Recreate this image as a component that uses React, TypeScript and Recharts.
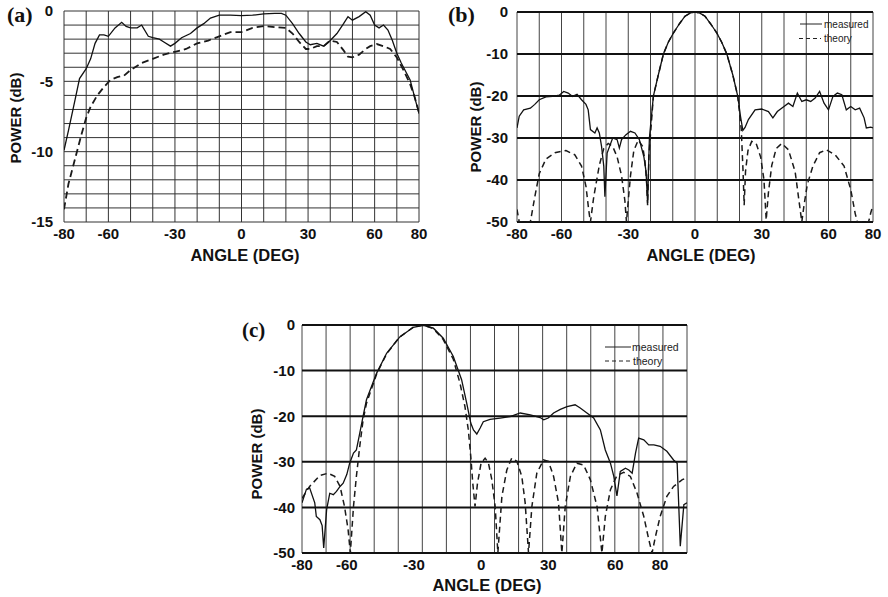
import React from 'react';
import { LineChart, Line, XAxis, YAxis, CartesianGrid } from 'recharts';

type Pt = [number, number];
const SANS = '"Liberation Sans", Arial, Helvetica, sans-serif';
const SERIF = '"Liberation Serif", "Times New Roman", serif';

// ---------- Panel (a) ----------
const aMeasured: Pt[] = [
  [-80, -9.9], [-78, -8.5], [-75, -6.3], [-73, -4.8], [-70, -4.1], [-68, -3.4], [-66, -2.3], [-64, -1.7],
  [-62, -1.7], [-60, -1.8], [-57, -1.2], [-54, -0.8], [-52, -1.1], [-50, -1.2], [-47, -1.2], [-45, -1.0],
  [-42, -1.8], [-40, -1.9], [-37, -2.0], [-35, -2.2], [-32, -2.5], [-30, -2.3], [-27, -1.9], [-23, -1.6],
  [-20, -1.2], [-17, -0.9], [-14, -0.5], [-12, -0.4], [-10, -0.3], [-5, -0.3], [0, -0.33], [5, -0.3],
  [10, -0.2], [15, -0.17], [18, -0.17], [20, -0.3], [23, -0.9], [26, -1.6], [29, -2.2], [31, -2.4],
  [34, -2.3], [37, -2.5], [40, -2.1], [43, -1.6], [46, -0.9], [48, -0.4], [50, -0.65], [53, -0.4],
  [56, -0.05], [58, -0.3], [60, -1.0], [62, -1.2], [64, -1.0], [66, -1.35], [68, -2.1], [70, -3.0],
  [72, -3.7], [74, -4.3], [76, -4.9], [78, -6.1], [80, -7.3],
];
const aTheory: Pt[] = [
  [-80, -14.1], [-78, -12.3], [-76, -11.1], [-74, -9.9], [-72, -8.7], [-70, -7.6], [-68, -6.8], [-65, -6.0],
  [-62, -5.4], [-59, -4.9], [-56, -4.7], [-53, -4.6], [-50, -4.2], [-45, -3.7], [-40, -3.4], [-35, -3.1],
  [-30, -2.9], [-25, -2.7], [-20, -2.3], [-15, -2.1], [-10, -1.8], [-5, -1.5], [0, -1.5], [5, -1.2],
  [10, -1.07], [15, -1.15], [20, -1.2], [23, -1.6], [26, -2.2], [29, -2.7], [31, -2.7], [34, -2.5],
  [37, -2.5], [40, -2.1], [43, -2.2], [46, -2.8], [48, -3.25], [50, -3.3], [53, -3.1], [56, -2.7],
  [58, -2.5], [61, -2.35], [64, -2.5], [67, -2.7], [70, -3.3], [73, -4.2], [76, -5.2], [78, -6.1], [80, -7.2],
];
const aXTicks = [-80, -60, -30, 0, 30, 60, 80];
const aYTicks = [0, -5, -10, -15];
const aGridX = [-80, -70, -60, -50, -40, -30, -20, -10, 0, 10, 20, 30, 40, 50, 60, 70, 80];
const aGridY = [0, -1, -2, -3, -4, -5, -6, -7, -8, -9, -10, -11, -12, -13, -14, -15];

// ---------- Panel (b) ----------
const bMeasured: Pt[] = [
  [-80, -27.6], [-79, -24.8], [-77, -23.3], [-74, -22.9], [-72, -22], [-70, -20.9], [-67, -20.2], [-64, -20.1],
  [-61, -19.8], [-59, -18.9], [-57, -19.3], [-55, -20.1], [-53, -19.6], [-51, -20.9], [-49, -22], [-48, -23.3],
  [-47, -28], [-45, -28.8], [-44, -27.6], [-43, -28.8], [-42, -32], [-41, -36.7], [-40.5, -44], [-39.5, -33.6],
  [-37, -30], [-35, -30.4], [-34, -32.4], [-33, -30.4], [-31, -29.2], [-29, -28.4], [-27, -28.8], [-25, -30.4],
  [-23, -34.4], [-22, -38], [-21.3, -45.5], [-20.5, -30], [-18.7, -20], [-16.5, -15], [-14.2, -10], [-12, -7.2],
  [-9.7, -5], [-7, -2.8], [-4.5, -1], [-2, -0.2], [0, 0], [2, -0.2], [4.5, -1], [7, -2.8], [9.8, -5],
  [12, -7.2], [14.3, -10], [17, -15], [19.2, -20], [20.5, -25], [21.5, -28.2], [22.5, -27.5], [24, -25.6],
  [27, -23.3], [30, -23.1], [33, -23.7], [35, -25.2], [37, -23.7], [40, -22.5], [42, -21.7], [44, -22.5],
  [46, -19.3], [48, -21.3], [50, -20.9], [52, -21.3], [54, -20.5], [56, -18.9], [58, -21.7], [60, -23.3],
  [62, -20.1], [64, -19.3], [66, -19.7], [68, -23.3], [70, -22.5], [72, -23.3], [74, -22.9], [76, -25.2],
  [77, -27.6], [79, -27.4], [80, -27.6],
];
const bTheory: Pt[] = [
  [-80, -47], [-79, -50], [-74, -50], [-72, -44], [-70, -38.5], [-67, -35], [-63, -33.5], [-58, -33],
  [-54, -34], [-51, -36.7], [-49, -41.5], [-47.8, -47], [-47, -50], [-45.5, -44], [-43, -36.5], [-41, -32.5],
  [-39, -31.3], [-37, -32], [-35, -34.5], [-33, -39], [-31.5, -45], [-30.8, -50], [-30, -45], [-29, -39],
  [-27.5, -33], [-25.5, -30.5], [-23.5, -32], [-22.5, -35.5], [-21.8, -40], [-21.3, -46], [-20.7, -34],
  [-18.7, -20], [-16.5, -15], [-14.2, -10], [-12, -7.2], [-9.7, -5], [-7, -2.8], [-4.5, -1], [-2, -0.2],
  [0, 0], [2, -0.2], [4.5, -1], [7, -2.8], [9.8, -5], [12, -7.2], [14.3, -10], [17, -15], [19.2, -20],
  [20.8, -28], [21.6, -38], [22.1, -46], [22.7, -38], [23.8, -33], [25.5, -30.8], [27.5, -31.3], [29.5, -34.5],
  [31, -40], [32, -49.5], [33, -43], [34.5, -36.5], [36.5, -32.5], [39, -31.3], [42, -32.8], [45, -38],
  [47, -46], [48, -50], [49, -46], [50.5, -41], [53, -36.7], [56, -33.5], [59, -32.8], [63, -34],
  [67, -36.7], [70, -42.3], [72, -48], [73, -50], [78, -50], [79, -47.8], [80, -46],
];
const bXTicks = [-80, -60, -30, 0, 30, 60, 80];
const bYTicks = [0, -10, -20, -30, -40, -50];
const bGridX = [-80, -70, -60, -50, -40, -30, -20, -10, 0, 10, 20, 30, 40, 50, 60, 70, 80];

// ---------- Panel (c) ----------
const cMeasured: Pt[] = [
  [-80, -39], [-78, -36], [-76.6, -35.7], [-74.3, -39], [-73.6, -42], [-72, -42.7], [-71, -44], [-70.3, -48.9],
  [-69, -40.5], [-67.6, -36.9], [-66, -37.2], [-64.6, -36.5], [-63, -35.4], [-61.6, -34.7], [-60, -32.8],
  [-58.7, -30.3], [-57, -28.1], [-55.7, -27.4], [-54.5, -24.5], [-52.7, -20], [-51.2, -16.4], [-46.7, -10.6],
  [-42.2, -6.2], [-36.3, -2.6], [-30.3, -0.5], [-25.8, -0.07], [-21.3, -0.7], [-16.9, -2.9], [-12.4, -6.9],
  [-8.7, -12], [-6.4, -17.2], [-4.6, -21.5], [-3.4, -23], [-1.9, -23.9], [-0.4, -22.6], [1, -21.2], [4, -20.7],
  [8.5, -20.4], [13, -20.1], [17.5, -19.3], [22, -19.7], [26.4, -20.3], [28, -20.8], [30, -20.4], [32.4, -19.3],
  [35.4, -18.5], [38.4, -17.9], [42, -17.5], [44.3, -18.2], [47.3, -19.3], [50.3, -20.4], [53.3, -23],
  [55.5, -27.4], [57.8, -30.3], [59.3, -33.2], [60.7, -37.5], [62.2, -32.1], [64.5, -31.4], [66, -31.8],
  [67.5, -32.5], [69, -28.1], [70.4, -24.8], [72.7, -25.2], [74.9, -26.3], [77.2, -26.3], [80, -26.6],
  [83, -27.7], [86, -29.6], [87.6, -30.3], [89, -48.5], [90.6, -39.4], [92, -39],
];
const cTheory: Pt[] = [
  [-80, -38], [-76.6, -35.4], [-72, -33], [-68.4, -32.5], [-65.4, -33.2], [-63, -35.4], [-61, -39.8],
  [-59.4, -44.9], [-58.4, -50], [-57, -39.8], [-55.7, -33.2], [-54.2, -26.6], [-52.7, -20.8], [-51.2, -17.2],
  [-46.7, -10.8], [-42.2, -6.3], [-36.3, -2.6], [-30.3, -0.5], [-25.8, 0], [-21.3, -0.8], [-16.9, -3.2],
  [-12.4, -7.5], [-9.4, -12.8], [-7.2, -17.9], [-5.7, -23], [-4.6, -28.8], [-3.7, -34.7], [-2.7, -39.8],
  [-1.6, -34.7], [0, -30.3], [1.8, -29.2], [3.3, -30.3], [4.8, -33.9], [6.3, -39.8], [7.5, -50], [9.3, -37.6],
  [11.5, -31.8], [13.7, -29.2], [16, -29.9], [18.2, -33.2], [19.7, -39], [21.2, -50], [22.7, -39.8],
  [24.9, -32.5], [27.9, -29.6], [30.1, -29.9], [32.4, -33.2], [34.6, -39], [36.1, -50], [37.6, -39.8],
  [39.9, -33.2], [42.8, -30.3], [45.8, -30.7], [48.8, -33.9], [51.8, -39.8], [54, -50], [55.5, -42],
  [57.8, -36.1], [60.7, -33], [63.7, -32.3], [66.7, -33.2], [69.7, -36.9], [72.7, -42], [74.9, -47],
  [76.4, -50], [77.9, -46.4], [80, -42], [83, -37.6], [86, -35.4], [89.9, -33.9], [92, -33.6],
];
const cXTicks = [-80, -60, -30, 0, 30, 60, 80];
const cYTicks = [0, -10, -20, -30, -40, -50];
const cGridX = [-80, -69.25, -58.5, -47.75, -37, -26.25, -15.5, -4.75, 6, 16.75, 27.5, 38.25, 49, 59.75, 70.5, 81.25, 92];

const toData = (pts: Pt[]) => pts.map(([a, p]) => ({ a, p }));

const tickStyle = { fill: '#111', fontSize: 15, fontWeight: 700, fontFamily: SANS };

type PanelProps = {
  width: number; height: number;
  margin: { top: number; right: number; bottom: number; left: number };
  yWidth: number; yTickMargin: number;
  xDomain: [number, number]; yDomain: [number, number];
  xTicks: number[]; yTicks: number[]; gridX: number[]; gridY: number[];
  measured: Pt[]; theory: Pt[];
  vGrid: { stroke: string; w: number }; hGrid: { stroke: string; w: number };
  dash: string; dashWidth: number;
};

function Panel(p: PanelProps) {
  return (
    <LineChart width={p.width} height={p.height} margin={p.margin}>
      <XAxis xAxisId={0} type="number" dataKey="a" domain={p.xDomain} ticks={p.xTicks} interval={0}
        allowDataOverflow axisLine={false} tickLine={false} tickSize={0} tickMargin={6} height={30} tick={tickStyle} />
      <XAxis xAxisId="gx" type="number" dataKey="a" domain={p.xDomain} ticks={p.gridX} interval={0} allowDataOverflow hide />
      <YAxis yAxisId={0} type="number" domain={p.yDomain} ticks={p.yTicks} interval={0} allowDataOverflow
        axisLine={false} tickLine={false} tickSize={0} tickMargin={p.yTickMargin} width={p.yWidth} tick={tickStyle} />
      <YAxis yAxisId="gy" type="number" domain={p.yDomain} ticks={p.gridY} interval={0} allowDataOverflow hide />
      <CartesianGrid xAxisId="gx" yAxisId={0} horizontal={false} vertical stroke={p.vGrid.stroke} strokeWidth={p.vGrid.w} />
      <CartesianGrid xAxisId={0} yAxisId="gy" horizontal vertical={false} stroke={p.hGrid.stroke} strokeWidth={p.hGrid.w} />
      <Line data={toData(p.theory)} dataKey="p" type="linear" stroke="#1a1a1a" strokeWidth={p.dashWidth}
        strokeDasharray={p.dash} dot={false} activeDot={false} isAnimationActive={false} />
      <Line data={toData(p.measured)} dataKey="p" type="linear" stroke="#111" strokeWidth={1.3}
        dot={false} activeDot={false} isAnimationActive={false} />
    </LineChart>
  );
}

const abs = (left: number, top: number): React.CSSProperties => ({ position: 'absolute', left, top });

export default function App() {
  const t = { fill: '#111', fontFamily: SANS, fontWeight: 700 } as const;
  return (
    <div style={{ position: 'absolute', left: 0, top: 0, width: 888, height: 597, background: '#fff', overflow: 'hidden' }}>
      <div style={abs(0, 0)}>
        <Panel width={440} height={270} margin={{ top: 11, right: 21, bottom: 18, left: 34 }} yWidth={30} yTickMargin={11}
          xDomain={[-80, 80]} yDomain={[-15, 0]} xTicks={aXTicks} yTicks={aYTicks} gridX={aGridX} gridY={aGridY}
          measured={aMeasured} theory={aTheory} vGrid={{ stroke: '#333', w: 1 }} hGrid={{ stroke: '#333', w: 1 }}
          dash="7 4" dashWidth={1.8} />
      </div>
      <div style={abs(440, 0)}>
        <Panel width={448} height={270} margin={{ top: 12, right: 15, bottom: 18, left: 37 }} yWidth={40} yTickMargin={9}
          xDomain={[-80, 80]} yDomain={[-50, 0]} xTicks={bXTicks} yTicks={bYTicks} gridX={bGridX} gridY={bYTicks}
          measured={bMeasured} theory={bTheory} vGrid={{ stroke: '#444', w: 1 }} hGrid={{ stroke: '#111', w: 2 }}
          dash="6 4" dashWidth={1.5} />
      </div>
      <div style={abs(200, 290)}>
        <Panel width={500} height={307} margin={{ top: 35, right: 13, bottom: 14, left: 62 }} yWidth={40} yTickMargin={7}
          xDomain={[-80, 92]} yDomain={[-50, 0]} xTicks={cXTicks} yTicks={cYTicks} gridX={cGridX} gridY={cYTicks}
          measured={cMeasured} theory={cTheory} vGrid={{ stroke: '#444', w: 1 }} hGrid={{ stroke: '#111', w: 2 }}
          dash="6 4" dashWidth={1.5} />
      </div>
      <svg width={888} height={597} style={{ position: 'absolute', left: 0, top: 0, pointerEvents: 'none' }}>
        {/* panel labels */}
        <text x={7} y={22} fontFamily={SERIF} fontWeight={700} fontSize={22} fill="#111">(a)</text>
        <text x={448} y={22} fontFamily={SERIF} fontWeight={700} fontSize={22} fill="#111">(b)</text>
        <text x={242} y={337} fontFamily={SERIF} fontWeight={700} fontSize={21} fill="#111">(c)</text>
        {/* axis titles */}
        <text x={245} y={255} textAnchor="middle" dominantBaseline="central" fontSize={16.5} {...t}>ANGLE (DEG)</text>
        <text x={701} y={255} textAnchor="middle" dominantBaseline="central" fontSize={16.5} {...t}>ANGLE (DEG)</text>
        <text x={487} y={585} textAnchor="middle" dominantBaseline="central" fontSize={16.5} {...t}>ANGLE (DEG)</text>
        <text transform="translate(15,118) rotate(-90)" textAnchor="middle" dominantBaseline="central" fontSize={15} {...t}>POWER (dB)</text>
        <text transform="translate(475,127) rotate(-90)" textAnchor="middle" dominantBaseline="central" fontSize={15} {...t}>POWER (dB)</text>
        <text transform="translate(256,454) rotate(-90)" textAnchor="middle" dominantBaseline="central" fontSize={15} {...t}>POWER (dB)</text>
        {/* legends */}
        <line x1={800} y1={24} x2={822} y2={24} stroke="#222" strokeWidth={1} />
        <text x={824} y={24} dominantBaseline="central" fontSize={10} fontFamily={SANS} fill="#222">measured</text>
        <line x1={799} y1={38.5} x2={821} y2={38.5} stroke="#222" strokeWidth={1} strokeDasharray="4 3" />
        <text x={824} y={38.5} dominantBaseline="central" fontSize={10} fontFamily={SANS} fill="#222">theory</text>
        <line x1={605} y1={347} x2={631} y2={347} stroke="#222" strokeWidth={1} />
        <text x={632} y={347} dominantBaseline="central" fontSize={10.5} fontFamily={SANS} fill="#222">measured</text>
        <line x1={605} y1={361} x2={631} y2={361} stroke="#222" strokeWidth={1} strokeDasharray="4 3" />
        <text x={633} y={361} dominantBaseline="central" fontSize={10.5} fontFamily={SANS} fill="#222">theory</text>
      </svg>
    </div>
  );
}
